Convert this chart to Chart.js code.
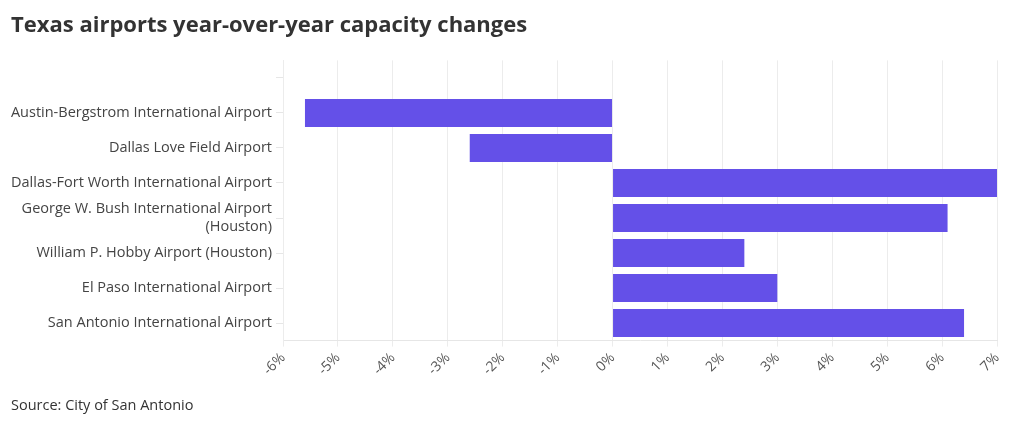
<!DOCTYPE html>
<html>
<head>
<meta charset="utf-8">
<script src="https://cdn.jsdelivr.net/npm/chart.js@4.4.1/dist/chart.umd.min.js"></script>
<style>
  html, body { margin: 0; padding: 0; background: #ffffff; }
  #wrap { width: 1020px; height: 426px; position: relative; }
</style>
</head>
<body>
<div id="wrap"><canvas id="c" width="1020" height="426"></canvas></div>
<script>
const titleText = 'Texas airports year-over-year capacity changes';
const sourceText = 'Source: City of San Antonio';
const categories = [
  '',
  'Austin-Bergstrom International Airport',
  'Dallas Love Field Airport',
  'Dallas-Fort Worth International Airport',
  ['George W. Bush International Airport', '(Houston)'],
  'William P. Hobby Airport (Houston)',
  'El Paso International Airport',
  'San Antonio International Airport'
];
const capacityChange = [null, -5.6, -2.6, 7.0, 6.1, 2.4, 3.0, 6.4];
const xMin = -6;
const xMax = 7;

const fontFamily = "'Open Sans', 'Noto Sans', sans-serif";

new Chart(document.getElementById('c'), {
  type: 'bar',
  data: {
    labels: categories,
    datasets: [{
      data: capacityChange,
      backgroundColor: '#6450e8',
      borderWidth: 0,
      categoryPercentage: 1.0,
      barPercentage: 0.8
    }]
  },
  options: {
    indexAxis: 'y',
    responsive: false,
    animation: false,
    devicePixelRatio: 1,
    layout: { padding: { left: 11, right: 23, top: 0, bottom: 0 } },
    plugins: {
      legend: { display: false },
      tooltip: { enabled: false },
      title: {
        display: true,
        text: titleText,
        align: 'start',
        color: '#333333',
        font: { family: fontFamily, size: 22, weight: 'bold' },
        padding: { top: 13, bottom: 21 }
      },
      subtitle: {
        display: true,
        text: sourceText,
        position: 'bottom',
        align: 'start',
        color: '#333333',
        font: { family: fontFamily, size: 14.5 },
        padding: { top: 19, bottom: 11 }
      }
    },
    scales: {
      x: {
        type: 'linear',
        min: xMin,
        max: xMax,
        afterFit: (s) => { s.height = 38; },
        ticks: {
          stepSize: 1,
          minRotation: 45,
          maxRotation: 45,
          color: '#555555',
          font: { family: fontFamily, size: 14 },
          callback: (v) => v + '%'
        },
        grid: { color: '#ececec', tickLength: 6 },
        border: { color: '#e6e6e6' }
      },
      y: {
        afterFit: (s) => { s.width = 272; },
        ticks: {
          color: '#444444',
          font: { family: fontFamily, size: 14.5 },
          padding: 4,
          autoSkip: false
        },
        grid: { drawOnChartArea: false, offset: false, color: '#e6e6e6', tickLength: 7 },
        border: { color: '#ececec' }
      }
    }
  }
});
</script>
</body>
</html>
